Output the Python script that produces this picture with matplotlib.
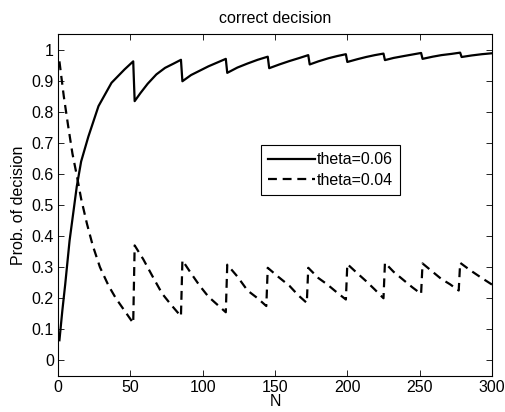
import matplotlib
matplotlib.use("Agg")
import matplotlib.pyplot as plt

plt.rcParams['font.family'] = ['Liberation Sans', 'DejaVu Sans']

# theta = 0.06 (solid)
n_06 = [1, 3, 5, 8, 11, 13, 16, 21, 28, 37, 46, 52,
        53, 57, 62, 68, 74, 80, 85,
        86, 92, 98, 104, 110, 116,
        117, 124, 131, 138, 145,
        146, 153, 160, 167, 173,
        174, 180, 187, 193, 199,
        200, 207, 213, 219, 225,
        226, 232, 239, 245, 251,
        252, 259, 265, 272, 278,
        279, 286, 293, 300]
p_06 = [0.065, 0.16, 0.245, 0.385, 0.49, 0.56, 0.64, 0.72, 0.818, 0.893, 0.936, 0.962,
        0.834, 0.86, 0.89, 0.92, 0.941, 0.955, 0.967,
        0.898, 0.918, 0.932, 0.946, 0.958, 0.970,
        0.925, 0.942, 0.955, 0.967, 0.977,
        0.940, 0.952, 0.963, 0.973, 0.982,
        0.952, 0.962, 0.972, 0.979, 0.985,
        0.960, 0.969, 0.976, 0.982, 0.987,
        0.966, 0.973, 0.979, 0.984, 0.989,
        0.970, 0.977, 0.982, 0.986, 0.990,
        0.976, 0.981, 0.985, 0.988]

# theta = 0.04 (dashed)
n_04 = [1, 4, 7, 10, 13, 16, 20, 24, 29, 35, 40, 46, 52,
        53, 59, 66, 72, 78, 85,
        86, 92, 98, 104, 110, 116,
        117, 124, 131, 138, 144,
        145, 152, 160, 166, 172,
        173, 180, 186, 193, 199,
        200, 207, 213, 219, 225,
        226, 232, 239, 245, 251,
        252, 259, 265, 271, 277,
        278, 285, 292, 300]
p_04 = [0.962, 0.85, 0.755, 0.665, 0.595, 0.52, 0.44, 0.37, 0.30, 0.24, 0.20, 0.16, 0.12,
        0.37, 0.325, 0.265, 0.215, 0.18, 0.142,
        0.322, 0.28, 0.24, 0.205, 0.18, 0.155,
        0.308, 0.27, 0.225, 0.20, 0.175,
        0.298, 0.27, 0.24, 0.21, 0.185,
        0.298, 0.265, 0.245, 0.218, 0.196,
        0.310, 0.28, 0.255, 0.228, 0.200,
        0.314, 0.285, 0.258, 0.235, 0.214,
        0.312, 0.285, 0.262, 0.245, 0.225,
        0.314, 0.29, 0.268, 0.244]

labels = ['theta=0.06', 'theta=0.04']
x_ticks = [0, 50, 100, 150, 200, 250, 300]
y_ticks = [0, 0.1, 0.2, 0.3, 0.4, 0.5, 0.6, 0.7, 0.8, 0.9, 1]
y_ticklabels = ['0', '0.1', '0.2', '0.3', '0.4', '0.5', '0.6', '0.7', '0.8', '0.9', '1']

fig = plt.figure(figsize=(5.06, 4.12), dpi=100)
ax = fig.add_axes([0.1146, 0.0874, 0.8577, 0.8301])

ax.plot(n_06, p_06, color='black', linewidth=1.6, label=labels[0])
ax.plot(n_04, p_04, color='black', linewidth=1.6, linestyle=(0, (4, 2.6)), label=labels[1])

ax.set_xlim(0, 300)
ax.set_ylim(-0.05, 1.05)
ax.set_xticks(x_ticks)
ax.set_yticks(y_ticks)
ax.set_yticklabels(y_ticklabels)
ax.tick_params(direction='in', length=4, width=0.6, top=True, right=True, labelsize=11.5, pad=3)
for s in ax.spines.values():
    s.set_linewidth(0.8)

ax.set_title('correct decision', fontsize=11.5, pad=8)
ax.set_xlabel('N', fontsize=11.5, labelpad=-1)
ax.set_ylabel('Prob. of decision', fontsize=11.5, labelpad=4)

leg = ax.legend(loc='upper left', bbox_to_anchor=(0.468, 0.675), fontsize=11.5,
                frameon=True, fancybox=False, edgecolor='black', framealpha=1,
                handlelength=2.9, handletextpad=0.15, borderpad=0.45, labelspacing=0.35,
                borderaxespad=0)
leg.get_frame().set_linewidth(0.8)

fig.savefig('out.png', dpi=100)
